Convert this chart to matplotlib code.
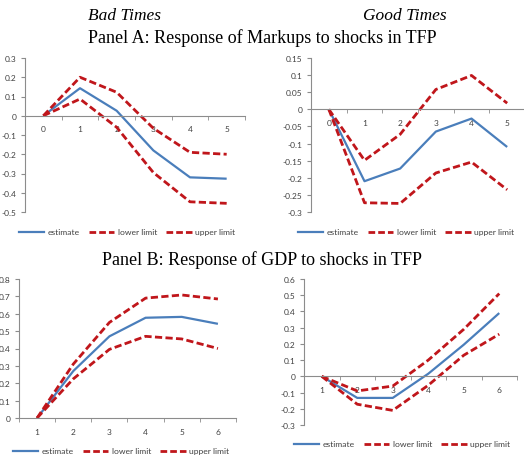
import matplotlib
matplotlib.use("Agg")
import matplotlib.pyplot as plt
from matplotlib.lines import Line2D

# ---- data ----
markup_x = ["0", "1", "2", "3", "4", "5"]
gdp_x = ["1", "2", "3", "4", "5", "6"]

bad_markup_est = [0, 0.143, 0.026, -0.18, -0.32, -0.327]
bad_markup_low = [0, 0.087, -0.06, -0.295, -0.447, -0.455]
bad_markup_up = [0, 0.20, 0.122, -0.065, -0.19, -0.20]

good_markup_est = [0, -0.21, -0.173, -0.065, -0.027, -0.11]
good_markup_low = [0, -0.273, -0.275, -0.186, -0.154, -0.235]
good_markup_up = [0, -0.149, -0.073, 0.058, 0.099, 0.018]

bad_gdp_est = [0, 0.27, 0.47, 0.577, 0.582, 0.542]
bad_gdp_low = [0, 0.225, 0.395, 0.47, 0.455, 0.40]
bad_gdp_up = [0, 0.31, 0.55, 0.69, 0.708, 0.685]

good_gdp_est = [0, -0.133, -0.133, 0.016, 0.195, 0.39]
good_gdp_low = [0, -0.172, -0.21, -0.055, 0.13, 0.26]
good_gdp_up = [0, -0.09, -0.06, 0.10, 0.29, 0.51]

legend_labels = ["estimate", "lower limit", "upper limit"]

W, H = 524, 456
fig = plt.figure(figsize=(W / 100, H / 100), dpi=100)

BLUE = "#4a7ebb"
RED = "#c0161b"
AX = "#8c8c8c"
TXT = "#404040"
TICKFONT = "Lato"
DASH = (0, (2.6, 1.2))


def add_ax(x0, x1, ytop, ybot):
    return fig.add_axes([x0 / W, 1 - ybot / H, (x1 - x0) / W, (ybot - ytop) / H])


def panel(ax, cats, est, low, up, ylim, yticks, ylabels):
    n = len(cats)
    xs = list(range(n))
    ax.plot(xs, est, color=BLUE, lw=1.6, solid_capstyle="butt")
    ax.plot(xs, low, color=RED, lw=2.0, ls=DASH)
    ax.plot(xs, up, color=RED, lw=2.0, ls=DASH)
    ax.set_xlim(-0.5, n - 0.5)
    ax.set_ylim(*ylim)
    for s in ["top", "right"]:
        ax.spines[s].set_visible(False)
    ax.spines["bottom"].set_position(("data", 0))
    for s in ["left", "bottom"]:
        ax.spines[s].set_color(AX)
        ax.spines[s].set_linewidth(0.8)
    ax.set_xticks(xs)
    ax.set_xticklabels(cats)
    ax.set_xticks([i - 0.5 for i in range(n + 1)], minor=True)
    ax.tick_params(axis="x", which="major", length=0, pad=7, labelsize=6,
                   labelcolor=TXT)
    ax.tick_params(axis="x", which="minor", length=3, color=AX, direction="out")
    ax.set_yticks(yticks)
    ax.set_yticklabels(ylabels)
    ax.tick_params(axis="y", length=3, color=AX, width=0.8, pad=3, labelsize=6,
                   labelcolor=TXT)
    for lab in ax.get_xticklabels() + ax.get_yticklabels():
        lab.set_family(TICKFONT)
    ax.patch.set_alpha(0)


def legend(xc, yc, colsp=1.1):
    handles = [
        Line2D([], [], color=BLUE, lw=1.6),
        Line2D([], [], color=RED, lw=2.0, ls=(0, (2.4, 1.1))),
        Line2D([], [], color=RED, lw=2.0, ls=(0, (2.4, 1.1))),
    ]
    fig.legend(handles, legend_labels, loc="center", bbox_to_anchor=(xc / W, 1 - yc / H),
               ncol=3, frameon=False, prop={"family": TICKFONT, "size": 6.1},
               handlelength=3.0, columnspacing=colsp, handletextpad=0.4,
               labelcolor=TXT, borderpad=0, borderaxespad=0)


def fmt(vals):
    return ["%g" % round(v, 2) for v in vals]


# Top-left
ax1 = add_ax(25, 245, 59, 213)
yt = [0.3, 0.2, 0.1, 0, -0.1, -0.2, -0.3, -0.4, -0.5]
panel(ax1, markup_x, bad_markup_est, bad_markup_low, bad_markup_up,
      (-0.5, 0.3), yt, fmt(yt))

# Top-right
ax2 = add_ax(311, 525, 59, 213)
yt = [0.15, 0.1, 0.05, 0, -0.05, -0.1, -0.15, -0.2, -0.25, -0.3]
panel(ax2, markup_x, good_markup_est, good_markup_low, good_markup_up,
      (-0.3, 0.15), yt, fmt(yt))

# Bottom-left
ax3 = add_ax(19, 236, 280, 419)
yt = [0.8, 0.7, 0.6, 0.5, 0.4, 0.3, 0.2, 0.1, 0]
panel(ax3, gdp_x, bad_gdp_est, bad_gdp_low, bad_gdp_up,
      (0, 0.8), yt, fmt(yt))

# Bottom-right
ax4 = add_ax(304, 517, 280, 426)
yt = [0.6, 0.5, 0.4, 0.3, 0.2, 0.1, 0, -0.1, -0.2, -0.3]
panel(ax4, gdp_x, good_gdp_est, good_gdp_low, good_gdp_up,
      (-0.3, 0.6), yt, fmt(yt))

legend(127, 233)
legend(406, 233)
legend(121, 452)
legend(402, 445)

serif = "Liberation Serif"
fig.text(125 / W, 1 - 16 / H, "Bad Times", ha="center", va="center",
         family=serif, style="italic", fontsize=12.5)
fig.text(405 / W, 1 - 16 / H, "Good Times", ha="center", va="center",
         family=serif, style="italic", fontsize=12.5)
fig.text(262 / W, 1 - 38 / H, "Panel A: Response of Markups to shocks in TFP",
         ha="center", va="center", family=serif, fontsize=13)
fig.text(262 / W, 1 - 260 / H, "Panel B: Response of GDP to shocks in TFP",
         ha="center", va="center", family=serif, fontsize=13)

fig.savefig("out.png", dpi=100)
